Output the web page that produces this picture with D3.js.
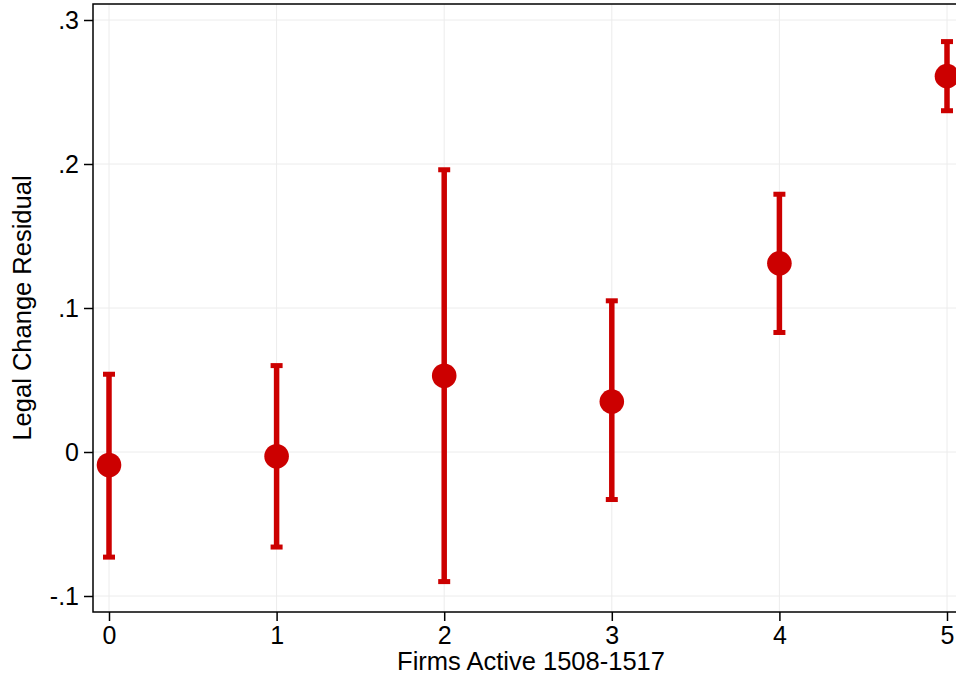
<!DOCTYPE html>
<html>
<head>
<meta charset="utf-8">
<script src="https://cdn.jsdelivr.net/npm/d3@7"></script>
<style>
  body { margin: 0; background: #fff; }
  svg { display: block; font-family: "Liberation Sans", Arial, sans-serif; }
</style>
</head>
<body>
<div id="chart"></div>
<script>
// firms active 1508-1517 (x), residual estimates with CI
var firms = [0, 1, 2, 3, 4, 5];
var estimate = [-0.009, -0.003, 0.053, 0.035, 0.131, 0.261];
var ciLow = [-0.073, -0.066, -0.090, -0.033, 0.083, 0.237];
var ciHigh = [0.054, 0.060, 0.196, 0.105, 0.179, 0.285];
var yTicks = [-0.1, 0, 0.1, 0.2, 0.3];
var yTickLabels = ["-.1", "0", ".1", ".2", ".3"];

const width = 956, height = 681;
const plotL = 93, plotR = 969, plotT = 4, plotB = 612;
const red = "#cc0000";

const x = d3.scaleLinear().domain([0, 5]).range([109, 947]);
const y = d3.scaleLinear().domain([-0.1, 0.3]).range([596, 20]);

const svg = d3.select("#chart").append("svg")
  .attr("width", width)
  .attr("height", height);

// grid
svg.append("g").selectAll("line")
  .data(yTicks).join("line")
  .attr("x1", plotL).attr("x2", plotR)
  .attr("y1", d => y(d)).attr("y2", d => y(d))
  .attr("stroke", "#ececec").attr("stroke-width", 1);
svg.append("g").selectAll("line")
  .data(firms).join("line")
  .attr("x1", d => x(d)).attr("x2", d => x(d))
  .attr("y1", plotT).attr("y2", plotB)
  .attr("stroke", "#ececec").attr("stroke-width", 1);

// frame
svg.append("rect")
  .attr("x", plotL).attr("y", plotT)
  .attr("width", plotR - plotL).attr("height", plotB - plotT)
  .attr("fill", "none").attr("stroke", "#000").attr("stroke-width", 1.5);

// axes
const yAxis = d3.axisLeft(y).tickValues(yTicks)
  .tickFormat((d, i) => yTickLabels[i]).tickSize(9).tickPadding(5);
const yg = svg.append("g").attr("transform", "translate(" + plotL + ",0)").call(yAxis);
yg.select(".domain").remove();

const xAxis = d3.axisBottom(x).tickValues(firms).tickFormat(d3.format("d"))
  .tickSize(9).tickPadding(5);
const xg = svg.append("g").attr("transform", "translate(0," + plotB + ")").call(xAxis);
xg.select(".domain").remove();

svg.selectAll(".tick line").attr("stroke", "#000").attr("stroke-width", 1.5);
svg.selectAll(".tick text").attr("font-size", 25)
  .attr("font-family", "Liberation Sans, Arial, sans-serif").attr("fill", "#000");

// error bars
const pts = firms.map((f, i) => ({f: f, est: estimate[i], lo: ciLow[i], hi: ciHigh[i]}));
const eb = svg.append("g").attr("fill", red);
eb.selectAll("line").data(pts).join("line")
  .attr("x1", d => x(d.f)).attr("x2", d => x(d.f))
  .attr("y1", d => y(d.lo)).attr("y2", d => y(d.hi))
  .attr("stroke", red).attr("stroke-width", 5.5);
eb.selectAll("rect.capHi").data(pts).join("rect").attr("class", "capHi")
  .attr("x", d => x(d.f) - 6).attr("y", d => y(d.hi) - 2.5)
  .attr("width", 12).attr("height", 5);
eb.selectAll("rect.capLo").data(pts).join("rect").attr("class", "capLo")
  .attr("x", d => x(d.f) - 6).attr("y", d => y(d.lo) - 2.5)
  .attr("width", 12).attr("height", 5);

// markers
svg.append("g").selectAll("circle").data(pts).join("circle")
  .attr("cx", d => x(d.f)).attr("cy", d => y(d.est))
  .attr("r", 12.3).attr("fill", red);

// titles
svg.append("text")
  .attr("x", 531).attr("y", 670)
  .attr("text-anchor", "middle").attr("font-size", 25.5)
  .text("Firms Active 1508-1517");
svg.append("text")
  .attr("transform", "translate(31," + ((plotT + plotB) / 2) + ") rotate(-90)")
  .attr("text-anchor", "middle").attr("font-size", 25.5)
  .text("Legal Change Residual");
</script>
</body>
</html>
